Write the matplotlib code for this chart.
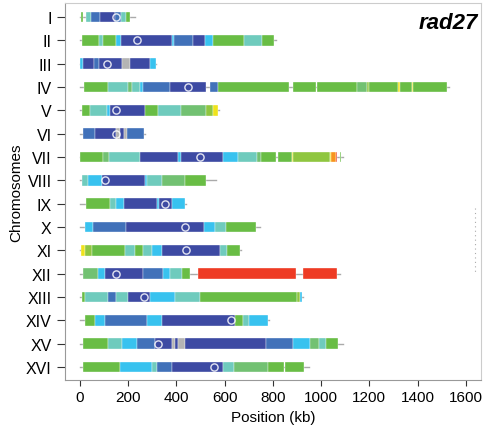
import numpy as np
import matplotlib
matplotlib.use("Agg")
import matplotlib.pyplot as plt

plt.rcParams['font.family'] = ['Liberation Sans', 'DejaVu Sans']

# chromosome names, lengths (kb) and centromere positions (kb)
chroms = ["I", "II", "III", "IV", "V", "VI", "VII", "VIII",
          "IX", "X", "XI", "XII", "XIII", "XIV", "XV", "XVI"]
chrom_len = [230, 813, 317, 1532, 577, 270, 1091, 563,
             440, 745, 667, 1078, 924, 784, 1091, 948]
centromere = [151, 238, 114, 449, 151, 148, 497, 105,
              355, 436, 440, 150, 268, 628, 326, 556]

# colour classes
palette = {
    "N": "#3d4aa3",  # dark blue
    "B": "#4171b9",  # blue
    "C": "#38c2ef",  # cyan
    "T": "#6fcbbd",  # teal
    "M": "#72c172",  # mid green
    "G": "#69bd45",  # green
    "L": "#8fc640",  # lime
    "Y": "#efe31c",  # yellow
    "O": "#f7941e",  # orange
    "R": "#ee3b24",  # red
    "S": "#b4b4b4",  # grey
}

# segments per chromosome: (start kb, end kb, class)
seg_I = [(5, 12, "G"), (25, 45, "T"), (45, 85, "B"), (85, 145, "N"),
         (145, 170, "B"), (170, 190, "T"), (190, 210, "G")]
seg_II = [(8, 80, "G"), (80, 95, "T"), (95, 150, "G"), (150, 170, "C"),
          (170, 380, "N"), (380, 390, "C"), (390, 470, "B"), (470, 520, "N"),
          (520, 550, "C"), (550, 680, "G"), (680, 755, "T"), (755, 805, "G")]
seg_III = [(0, 12, "C"), (12, 60, "N"), (60, 80, "B"), (80, 173, "N"),
           (173, 207, "S"), (207, 290, "N"), (290, 317, "C")]
seg_IV = [(17, 116, "G"), (116, 200, "T"), (200, 215, "M"), (215, 248, "T"),
          (248, 262, "C"), (262, 373, "B"), (373, 525, "N"), (540, 572, "B"),
          (572, 868, "G"), (882, 980, "G"), (985, 1147, "G"), (1147, 1190, "M"),
          (1190, 1200, "L"), (1200, 1320, "G"), (1320, 1328, "Y"),
          (1328, 1375, "G"), (1375, 1382, "Y"), (1382, 1522, "G")]
seg_V = [(8, 42, "G"), (42, 111, "T"), (111, 125, "C"), (125, 270, "N"),
         (270, 325, "G"), (325, 420, "T"), (420, 525, "M"), (525, 552, "L"),
         (552, 572, "Y")]
seg_VI = [(12, 62, "B"), (62, 150, "N"), (150, 165, "S"), (165, 182, "N"),
          (182, 196, "S"), (196, 268, "B")]
seg_VII = [(0, 95, "G"), (95, 122, "M"), (122, 248, "T"), (248, 405, "N"),
           (405, 420, "C"), (420, 592, "N"), (592, 654, "C"), (654, 735, "T"),
           (735, 750, "M"), (750, 815, "G"), (820, 878, "G"), (878, 882, "Y"),
           (882, 1035, "L"), (1035, 1043, "Y"), (1043, 1060, "O"),
           (1060, 1066, "R"), (1078, 1082, "G")]
seg_VIII = [(8, 33, "T"), (33, 90, "C"), (90, 270, "N"), (270, 280, "C"),
            (280, 340, "T"), (340, 435, "M"), (435, 525, "G")]
seg_IX = [(25, 124, "G"), (124, 150, "T"), (150, 185, "C"), (185, 318, "N"),
          (318, 330, "C"), (330, 380, "N"), (380, 435, "C")]
seg_X = [(20, 55, "C"), (55, 190, "B"), (190, 515, "N"), (515, 560, "C"),
         (560, 605, "T"), (605, 732, "G")]
seg_XI = [(4, 20, "Y"), (20, 50, "L"), (50, 186, "G"), (186, 230, "T"),
          (230, 260, "G"), (260, 298, "T"), (298, 340, "C"), (340, 580, "N"),
          (580, 610, "T"), (610, 662, "G")]
seg_XII = [(12, 75, "M"), (75, 103, "C"), (103, 262, "N"), (262, 345, "B"),
           (345, 373, "C"), (373, 422, "T"), (422, 455, "G"),
           (488, 895, "R"), (925, 1065, "R")]
seg_XIII = [(8, 20, "G"), (20, 115, "T"), (115, 150, "B"), (150, 200, "T"),
            (200, 290, "N"), (290, 393, "C"), (393, 497, "T"), (497, 900, "G"),
            (900, 912, "L"), (912, 920, "C")]
seg_XIV = [(20, 62, "G"), (62, 103, "C"), (103, 280, "B"), (280, 340, "C"),
           (340, 643, "N"), (643, 675, "G"), (675, 700, "T"), (700, 778, "C")]
seg_XV = [(12, 116, "G"), (116, 173, "T"), (173, 236, "C"), (236, 310, "B"),
          (310, 380, "N"), (380, 395, "S"), (395, 405, "N"), (405, 434, "S"),
          (434, 773, "N"), (773, 882, "B"), (882, 952, "C"), (952, 990, "M"),
          (990, 1020, "T"), (1020, 1068, "G")]
seg_XVI = [(12, 166, "G"), (166, 298, "C"), (298, 318, "T"), (318, 380, "B"),
           (380, 592, "N"), (592, 640, "T"), (640, 780, "M"), (780, 845, "G"),
           (852, 930, "G")]

segments = [seg_I, seg_II, seg_III, seg_IV, seg_V, seg_VI, seg_VII, seg_VIII,
            seg_IX, seg_X, seg_XI, seg_XII, seg_XIII, seg_XIV, seg_XV, seg_XVI]

fig = plt.figure(figsize=(4.84, 4.35), dpi=100)
ax = fig.add_axes([0.134, 0.124, 0.86, 0.867])

rows = np.arange(1, len(chroms) + 1)
for y, L, cen, segs in zip(rows, chrom_len, centromere, segments):
    ax.plot([0, L], [y, y], color="#aaaaaa", lw=1, zorder=1)
    for s, e, c in segs:
        ax.barh(y, e - s, left=s, height=0.46, color=palette[c],
                edgecolor="white", linewidth=0.25, zorder=2)
    ax.plot(cen, y, "o", ms=5.2, mfc="none", mec="white", mew=1.0,
            alpha=0.85, zorder=3)

# faint dotted marks at the right edge
ax.plot([1636, 1636], [9.2, 12.0], color="#aaaaaa", lw=0.8, ls=(0, (1, 3)),
        zorder=1)

ax.set_xlim(-62, 1663)
ax.set_ylim(16.56, 0.4)
ax.set_yticks(rows)
ax.set_yticklabels(chroms, fontsize=11.5)
ax.set_xticks(np.arange(0, 1601, 200))
ax.tick_params(axis="x", labelsize=11, colors="#333333", length=4)
ax.tick_params(axis="y", colors="#333333", length=6)
for lab in ax.get_xticklabels() + ax.get_yticklabels():
    lab.set_color("black")
for side in ["left", "bottom"]:
    ax.spines[side].set_color("#999999")
for side in ["top", "right"]:
    ax.spines[side].set_color("#cccccc")

ax.set_xlabel("Position (kb)", fontsize=11)
ax.set_ylabel("Chromosomes", fontsize=11, labelpad=2)
ax.text(0.993, 0.977, "rad27", transform=ax.transAxes, ha="right", va="top",
        fontsize=16, fontweight="bold", fontstyle="italic")

fig.savefig("out.png", dpi=100)
